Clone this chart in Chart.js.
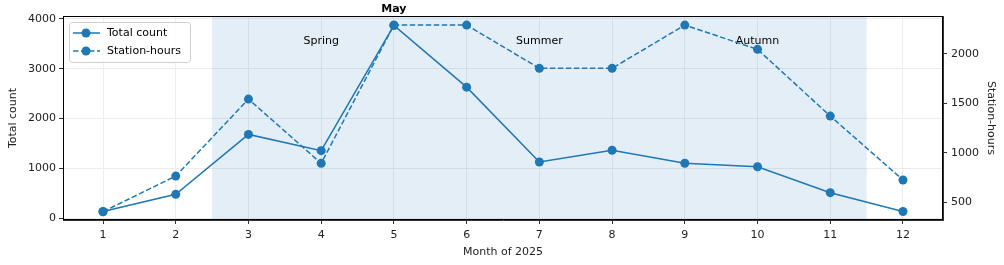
<!DOCTYPE html>
<html>
<head>
<meta charset="utf-8">
<script src="https://cdn.jsdelivr.net/npm/chart.js@4/dist/chart.umd.min.js"></script>
<style>
  html, body { margin: 0; padding: 0; background: #fff; }
  #wrap { width: 1004px; height: 265px; }
</style>
</head>
<body>
<div id="wrap"><canvas id="c" width="1004" height="265"></canvas></div>
<script>
const months = [1, 2, 3, 4, 5, 6, 7, 8, 9, 10, 11, 12];
const totalCount = [130, 476, 1680, 1353, 3870, 2630, 1126, 1361, 1100, 1031, 509, 130];
const stationHours = [402, 763, 1543, 892, 2293, 2293, 1855, 1855, 2293, 2047, 1371, 723];
const leftTicks = [0, 1000, 2000, 3000, 4000];
const rightTicks = [500, 1000, 1500, 2000];
const seasons = [
  { label: 'Spring', x: 4 },
  { label: 'Summer', x: 7 },
  { label: 'Autumn', x: 10 },
];
const shadeFrom = 2.5;
const shadeTo = 11.5;
const peakLabel = { text: 'May', x: 5 };

const blue = '#1f77b4';
const font = 'DejaVu Sans';
const plain = (v) => String(v); // no thousands separator

const overlay = {
  id: 'overlay',
  beforeDatasetsDraw(c) {
    const { ctx, chartArea: a, scales } = c;
    const x0 = scales.x.getPixelForValue(shadeFrom);
    const x1 = scales.x.getPixelForValue(shadeTo);
    ctx.save();
    ctx.fillStyle = 'rgba(31,119,180,0.12)';
    ctx.fillRect(x0, a.top, x1 - x0, a.bottom - a.top);
    ctx.fillStyle = '#000';
    ctx.font = '11px "' + font + '"';
    ctx.textAlign = 'center';
    ctx.textBaseline = 'middle';
    seasons.forEach(s => {
      ctx.fillText(s.label, scales.x.getPixelForValue(s.x), 41);
    });
    ctx.restore();
  },
  afterDraw(c) {
    const { ctx, chartArea: a, scales } = c;
    ctx.save();
    // frame
    ctx.strokeStyle = '#000';
    ctx.lineWidth = 1;
    ctx.strokeRect(a.left + 0.5, a.top + 0.5, a.right - a.left - 1, a.bottom - a.top - 1);
    // peak label
    ctx.fillStyle = '#000';
    ctx.font = 'bold 11px "' + font + '"';
    ctx.textAlign = 'center';
    ctx.textBaseline = 'middle';
    ctx.fillText(peakLabel.text, scales.x.getPixelForValue(peakLabel.x), 9);
    // legend
    const lx = a.left + 6, ly = a.top + 6, lw = 121, lh = 40;
    ctx.fillStyle = 'rgba(255,255,255,0.8)';
    ctx.strokeStyle = '#d0d0d0';
    ctx.beginPath();
    ctx.roundRect(lx + 0.5, ly + 0.5, lw, lh, 3);
    ctx.fill();
    ctx.stroke();
    c.data.datasets.forEach((ds, i) => {
      const y = ly + 11 + i * 18;
      ctx.strokeStyle = blue;
      ctx.lineWidth = 1.5;
      ctx.setLineDash(ds.borderDash || []);
      ctx.beginPath();
      ctx.moveTo(lx + 4, y);
      ctx.lineTo(lx + 31, y);
      ctx.stroke();
      ctx.setLineDash([]);
      ctx.fillStyle = blue;
      ctx.beginPath();
      ctx.arc(lx + 17, y, 4.5, 0, Math.PI * 2);
      ctx.fill();
      ctx.fillStyle = '#000';
      ctx.font = '11px "' + font + '"';
      ctx.textAlign = 'left';
      ctx.fillText(ds.label, lx + 38, y);
    });
    ctx.restore();
  }
};

new Chart(document.getElementById('c'), {
  type: 'line',
  data: {
    datasets: [
      {
        label: 'Total count',
        data: months.map((m, i) => ({ x: m, y: totalCount[i] })),
        yAxisID: 'y',
        borderColor: blue,
        backgroundColor: blue,
        borderWidth: 1.5,
        pointRadius: 4.5,
        pointBorderWidth: 0,
        tension: 0,
      },
      {
        label: 'Station-hours',
        data: months.map((m, i) => ({ x: m, y: stationHours[i] })),
        yAxisID: 'y1',
        borderColor: blue,
        backgroundColor: blue,
        borderWidth: 1.5,
        borderDash: [5.5, 2.5],
        pointRadius: 4.5,
        pointBorderWidth: 0,
        tension: 0,
      },
    ],
  },
  options: {
    responsive: false,
    animation: false,
    layout: { padding: { top: 16, left: 0, right: 0, bottom: 0 } },
    scales: {
      x: {
        type: 'linear',
        min: 0.45,
        max: 12.55,
        afterBuildTicks: (s) => { s.ticks = months.map(v => ({ value: v })); },
        afterFit: (s) => { s.height = 45; },
        grid: { color: '#ececec', tickColor: '#333', tickLength: 4 },
        border: { color: '#333' },
        ticks: { color: '#222', font: { family: font, size: 11 }, padding: 5, maxRotation: 0, callback: plain },
        title: { display: true, text: 'Month of 2025', color: '#222', font: { family: font, size: 11 }, padding: { top: 0, bottom: 6 } },
      },
      y: {
        position: 'left',
        min: -40,
        max: 4060,
        afterBuildTicks: (s) => { s.ticks = leftTicks.map(v => ({ value: v })); },
        afterFit: (s) => { s.width = 63; },
        grid: { color: '#ececec', tickColor: '#333', tickLength: 4 },
        border: { color: '#333' },
        ticks: { color: '#222', font: { family: font, size: 11 }, padding: 3, callback: plain },
        title: { display: true, text: 'Total count', color: '#222', font: { family: font, size: 11 }, padding: { top: 7, bottom: 0 } },
      },
      y1: {
        position: 'right',
        min: 318,
        max: 2385,
        afterBuildTicks: (s) => { s.ticks = rightTicks.map(v => ({ value: v })); },
        afterFit: (s) => { s.width = 61; },
        grid: { drawOnChartArea: false, tickColor: '#333', tickLength: 4 },
        border: { color: '#333' },
        ticks: { color: '#222', font: { family: font, size: 11 }, padding: 4, callback: plain },
        title: { display: true, text: 'Station-hours', color: '#222', font: { family: font, size: 11 }, padding: { top: 7, bottom: 0 } },
      },
    },
    plugins: {
      legend: { display: false },
      tooltip: { enabled: false },
    },
  },
  plugins: [overlay],
});
</script>
</body>
</html>
